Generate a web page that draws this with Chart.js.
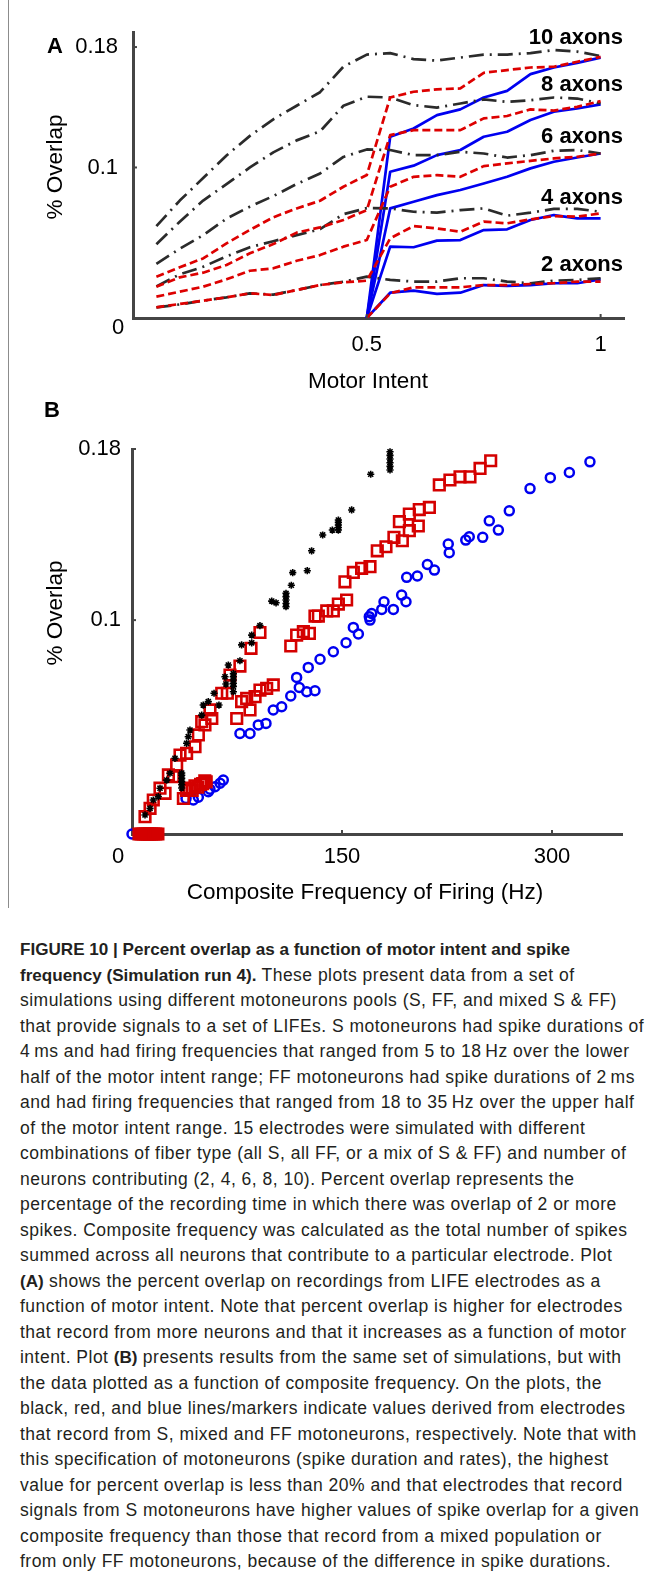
<!DOCTYPE html>
<html>
<head>
<meta charset="utf-8">
<title>Figure 10 - Percent overlap</title>
<script src="https://cdn.jsdelivr.net/npm/chart.js@4.4.1/dist/chart.umd.min.js"></script>
<style>
  html, body { margin: 0; padding: 0; background: #fff; }
  body { width: 657px; height: 1581px; position: relative; overflow: hidden; }
  .frame-line { position: absolute; left: 8px; top: 0; width: 1px; height: 908px; background: #8c8c8c; }
  #chartA { position: absolute; left: 0; top: 0; }
  #chartB { position: absolute; left: 0; top: 400px; }
  .caption {
    position: absolute; left: 20px; top: 937px;
    font-family: "Liberation Sans", Arial, Helvetica, sans-serif;
    font-size: 17.5px; line-height: 25.5px; color: #231f20;
    white-space: nowrap; letter-spacing: 0.48px;
  }
  .caption b { letter-spacing: 0; font-size: 17.1px; }
</style>
</head>
<body>
<div class="frame-line"></div>
<canvas id="chartA" width="657" height="400"></canvas>
<canvas id="chartB" width="657" height="510"></canvas>

<div class="caption">
<b>FIGURE 10 | Percent overlap as a function of motor intent and spike</b><br>
<b>frequency (Simulation run 4).</b> These plots present data from a set of<br>
simulations using different motoneurons pools (S, FF, and mixed S &amp; FF)<br>
that provide signals to a set of LIFEs. S motoneurons had spike durations of<br>
4&#8201;ms and had firing frequencies that ranged from 5 to 18&#8201;Hz over the lower<br>
half of the motor intent range; FF motoneurons had spike durations of 2&#8201;ms<br>
and had firing frequencies that ranged from 18 to 35&#8201;Hz over the upper half<br>
of the motor intent range. 15 electrodes were simulated with different<br>
combinations of fiber type (all S, all FF, or a mix of S &amp; FF) and number of<br>
neurons contributing (2, 4, 6, 8, 10). Percent overlap represents the<br>
percentage of the recording time in which there was overlap of 2 or more<br>
spikes. Composite frequency was calculated as the total number of spikes<br>
summed across all neurons that contribute to a particular electrode. Plot<br>
<b>(A)</b> shows the percent overlap on recordings from LIFE electrodes as a<br>
function of motor intent. Note that percent overlap is higher for electrodes<br>
that record from more neurons and that it increases as a function of motor<br>
intent. Plot <b>(B)</b> presents results from the same set of simulations, but with<br>
the data plotted as a function of composite frequency. On the plots, the<br>
black, red, and blue lines/markers indicate values derived from electrodes<br>
that record from S, mixed and FF motoneurons, respectively. Note that with<br>
this specification of motoneurons (spike duration and rates), the highest<br>
value for percent overlap is less than 20% and that electrodes that record<br>
signals from S motoneurons have higher values of spike overlap for a given<br>
composite frequency than those that record from a mixed population or<br>
from only FF motoneurons, because of the difference in spike durations.
</div>

<script>
// ===== Figure 10: % overlap vs motor intent (A) and composite frequency (B) =====

// ---------- Panel A: % overlap vs motor intent ----------
const intent = [0.05, 0.1, 0.15, 0.2, 0.25, 0.3, 0.35, 0.4, 0.45, 0.5,
                0.55, 0.6, 0.65, 0.7, 0.75, 0.8, 0.85, 0.9, 0.95, 1];

// S motoneurons (black dash-dot)
const s10 = [0.061, 0.078, 0.093, 0.108, 0.121, 0.132, 0.141, 0.150, 0.167, 0.175,
             0.176, 0.172, 0.171, 0.173, 0.175, 0.175, 0.176, 0.178, 0.177, 0.174];
const s8  = [0.049, 0.064, 0.078, 0.089, 0.100, 0.110, 0.118, 0.124, 0.141, 0.147,
             0.1465, 0.1414, 0.1398, 0.1425, 0.1452, 0.1436, 0.1447, 0.1465, 0.1458, 0.1425];
const s6  = [0.036, 0.046, 0.055, 0.066, 0.074, 0.081, 0.089, 0.096, 0.107, 0.112,
             0.1116, 0.1082, 0.1082, 0.1104, 0.1093, 0.1066, 0.1082, 0.1111, 0.1116, 0.1093];
const s4  = [0.021, 0.029, 0.034, 0.041, 0.047, 0.051, 0.055, 0.059, 0.069, 0.073,
             0.0728, 0.0706, 0.0700, 0.0717, 0.0728, 0.0680, 0.0700, 0.0725, 0.0725, 0.0706];
const s2  = [0.007, 0.009, 0.0115, 0.0137, 0.0164, 0.0155, 0.0186, 0.0219, 0.0241, 0.0275,
             0.0253, 0.0242, 0.0242, 0.0264, 0.0264, 0.0242, 0.0231, 0.0248, 0.0253, 0.0264];

// mixed S & FF (red dashed) - the 2-axon mix has a single S unit, so no overlap below 0.5
const mix10 = [0.0274, 0.0337, 0.0396, 0.0496, 0.0585, 0.0669, 0.0728, 0.0779, 0.0872, 0.0950,
               0.1465, 0.1503, 0.1519, 0.1525, 0.1629, 0.1647, 0.1664, 0.1669, 0.1702, 0.1735];
const mix8  = [0.0208, 0.027, 0.0301, 0.0352, 0.043, 0.0491, 0.0567, 0.0602, 0.0651, 0.0717,
               0.1215, 0.1248, 0.1248, 0.1248, 0.1326, 0.1342, 0.1386, 0.1378, 0.1403, 0.1441];
const mix6  = [0.0142, 0.0175, 0.0208, 0.0257, 0.0314, 0.033, 0.038, 0.0418, 0.0474, 0.0518,
               0.0872, 0.0938, 0.0949, 0.0938, 0.1009, 0.1027, 0.1044, 0.106, 0.1071, 0.1093];
const mix4  = [0.0071, 0.0093, 0.0115, 0.0137, 0.0164, 0.0153, 0.0186, 0.0219, 0.0237, 0.0248,
               0.0529, 0.0611, 0.0595, 0.0573, 0.064, 0.0629, 0.0655, 0.0677, 0.0673, 0.0695];
const mix2  = [null, null, null, null, null, null, null, null, null, 0,
               0.0164, 0.0204, 0.0204, 0.0204, 0.0219, 0.0219, 0.0226, 0.0231, 0.0242, 0.0242];

// FF motoneurons (blue) - they only fire over the upper half
const ff10 = [null, null, null, null, null, null, null, null, null, 0,
              0.1204, 0.1259, 0.1348, 0.1386, 0.1465, 0.1509, 0.162, 0.1664, 0.1695, 0.173];
const ff8  = [null, null, null, null, null, null, null, null, null, 0,
              0.0972, 0.1012, 0.1082, 0.1116, 0.1204, 0.1237, 0.1315, 0.137, 0.1392, 0.1419];
const ff6  = [null, null, null, null, null, null, null, null, null, 0,
              0.0728, 0.0772, 0.0816, 0.085, 0.0894, 0.0938, 0.0994, 0.1038, 0.1066, 0.1093];
const ff4  = [null, null, null, null, null, null, null, null, null, 0,
              0.0474, 0.047, 0.0514, 0.0518, 0.0584, 0.0589, 0.0651, 0.0684, 0.0662, 0.0662];
const ff2  = [null, null, null, null, null, null, null, null, null, 0,
              0.0168, 0.0182, 0.016, 0.0168, 0.0219, 0.0213, 0.0219, 0.0231, 0.0231, 0.0257];

const intentTicks = [0.5, 1];
const intentTickLabels = ['0.5', '1'];
const overlapTicksA = [0.1, 0.18];
const overlapTickLabelsA = ['0.1', '0.18'];
const axonLabels = ['10 axons', '8 axons', '6 axons', '4 axons', '2 axons'];

// ---------- Panel B: % overlap vs composite frequency (Hz) ----------
const sFreq = [9.3, 12.9, 15.2, 18.8, 20, 24.8, 27.1, 30.7, 35.5, 35.5,
               35.5, 35.5, 35.5, 35.5, 39, 40.2, 41.4, 49.8, 50.9, 54.5,
               58.6, 62.1, 66.4, 67.1, 68.8, 72.4, 72.4, 72.4, 72.4, 72.4,
               72.4, 77.1, 78.3, 85.5, 85.5, 91.4, 99.8, 102.9, 110, 110,
               110, 110, 110, 113.8, 114.8, 125.2, 128.3, 136.2, 143.1, 147.4,
               147.4, 147.4, 147.4, 147.4, 156.9, 170.5, 184.3, 184.3, 184.3, 184.3,
               184.3, 184.3];
const sOverlap = [0.0089, 0.012, 0.0159, 0.0175, 0.0214, 0.0252, 0.0284, 0.0354, 0.0215, 0.023,
                  0.0245, 0.026, 0.0275, 0.0285, 0.0424, 0.0455, 0.0486, 0.0556, 0.0603, 0.0619,
                  0.0658, 0.0603, 0.0735, 0.0701, 0.079, 0.0665, 0.069, 0.0705, 0.072, 0.0735,
                  0.075, 0.081, 0.0884, 0.0894, 0.093, 0.0974, 0.1089, 0.1081, 0.1063, 0.1078,
                  0.1094, 0.111, 0.1125, 0.1163, 0.1222, 0.1231, 0.1324, 0.1398, 0.1421, 0.1421,
                  0.1433, 0.1445, 0.1457, 0.1468, 0.1515, 0.1682, 0.1702, 0.1719, 0.1736, 0.1753,
                  0.177, 0.1787];

const mixFreq = [5, 6.5, 8, 9.5, 11, 12.5, 14, 15.5, 17, 18.5,
                 9.3, 12.9, 15.2, 20, 23.6, 26, 29.5, 31.9, 34.3, 39,
                 45, 47.4, 49.8, 52.1, 55.7, 57, 64.1, 68.1, 70, 77.1,
                 85, 91.4,
                 36.7, 39, 41, 43, 45, 47, 49, 50.5, 52, 53,
                 74.8, 78.3, 81.9, 84.3, 87.9, 91.4, 96.2, 100.9,
                 113.4, 117.6, 122.4, 126.7, 130.7, 133.1, 139.1, 143.8, 147.4, 153.3,
                 152.1, 158.1, 164, 170, 175.2, 181.4, 187.1, 193.1, 198.1, 204.5,
                 191, 198.1, 205.2, 212.4, 219.5, 227.1, 234.3, 241.4, 248.6, 256.2];
const mixOverlap = [0, 0, 0, 0, 0, 0, 0, 0, 0, 0,
                    0.0081, 0.012, 0.0159, 0.0214, 0.019, 0.0276, 0.0268, 0.0323, 0.0369, 0.0377,
                    0.0408, 0.0463, 0.0525, 0.051, 0.058, 0.054, 0.0658, 0.0658, 0.0743, 0.0785,
                    0.0868, 0.0942,
                    0.0166, 0.0204, 0.0215, 0.0204, 0.0225, 0.0219, 0.0232, 0.0236, 0.0248, 0.0244,
                    0.054, 0.0619, 0.0634, 0.058, 0.0642, 0.0673, 0.0681, 0.0697,
                    0.0879, 0.093, 0.0946, 0.0938, 0.1019, 0.1019, 0.1043, 0.1043, 0.1075, 0.1094,
                    0.1179, 0.1223, 0.1242, 0.125, 0.1324, 0.1343, 0.1387, 0.1371, 0.1418, 0.144,
                    0.146, 0.1496, 0.1517, 0.1527, 0.1632, 0.1655, 0.167, 0.167, 0.1709, 0.1745];

const ffFreq = [0,
                38.6, 43.8, 47.4, 54.5, 55.7, 59.3, 62.9, 65.2,
                77.1, 84.3, 90.2, 95.7, 100.9, 106.9, 113.4, 119.5, 124.8, 130.7,
                117.6, 125.9, 134.3, 143.8, 152.9, 161.7, 169.5, 178.4, 180, 186.7,
                158.1, 170, 171.2, 192.6, 195.7, 216, 226.6, 238.4, 250.5, 261.7,
                196.2, 203.8, 211, 225.9, 240.9, 255.2, 269.5, 284.3, 298.8, 312.4, 327.1];
const ffOverlap = [0,
                   0.0166, 0.0159, 0.0172, 0.0198, 0.0209, 0.0221, 0.0237, 0.0252,
                   0.047, 0.047, 0.051, 0.0517, 0.058, 0.0595, 0.0645, 0.0685, 0.0665, 0.067,
                   0.0732, 0.0779, 0.0817, 0.0852, 0.0894, 0.0935, 0.1016, 0.105, 0.1086, 0.105,
                   0.0966, 0.1, 0.1031, 0.1117, 0.1086, 0.1234, 0.1315, 0.1374, 0.1387, 0.1421,
                   0.12, 0.1206, 0.126, 0.1356, 0.139, 0.1464, 0.1511, 0.1615, 0.1666, 0.169, 0.174];

const freqTicks = [150, 300];
const freqTickLabels = ['150', '300'];
const overlapTicksB = [0.1, 0.18];
const overlapTickLabelsB = ['0.1', '0.18'];

// ==================== STYLE ====================
const FONT = '"Liberation Sans", Arial, Helvetica, sans-serif';
const AXIS_COLOR = '#454545';
const BLACK = '#2b2b2b';
const RED = '#dd0000';
const BLUE = '#0000f0';

Chart.defaults.font.family = FONT;
Chart.defaults.color = '#000';

// ==================== HELPERS ====================
function toPoints(xs, ys) {
    return xs.map((x, i) => ({ x: x, y: ys[i] }));
}

function lineSet(values, color, dash) {
    return {
        data: toPoints(intent, values),
        showLine: true,
        borderColor: color,
        borderWidth: 2.7,
        borderDash: dash,
        borderJoinStyle: 'round',
        pointRadius: 0,
        spanGaps: false,
        fill: false
    };
}

function tickedAxis(min, max, values, labels, padding, size) {
    return {
        type: 'linear',
        min: min,
        max: max,
        grid: { display: false, drawTicks: false },
        border: { display: true, color: AXIS_COLOR, width: 3 },
        afterBuildTicks: axis => { axis.ticks = values.map(v => ({ value: v })); },
        ticks: {
            autoSkip: false,
            maxRotation: 0,
            padding: padding,
            color: '#000',
            font: { size: 22 },
            callback: v => labels[values.indexOf(v)]
        },
        afterFit: axis => {
            if (axis.isHorizontal()) axis.height = size;
            else axis.width = size;
        }
    };
}

// small inward tick marks plus the free-standing labels
function annotations(texts) {
    return {
        id: 'annotations',
        afterDraw(chart) {
            const { ctx, chartArea, scales } = chart;
            ctx.save();
            ctx.strokeStyle = AXIS_COLOR;
            ctx.lineWidth = 2;
            scales.y.ticks.forEach(t => {
                const py = scales.y.getPixelForValue(t.value);
                ctx.beginPath();
                ctx.moveTo(chartArea.left, py);
                ctx.lineTo(chartArea.left + 4, py);
                ctx.stroke();
            });
            scales.x.ticks.forEach(t => {
                const px = scales.x.getPixelForValue(t.value);
                ctx.beginPath();
                ctx.moveTo(px, chartArea.bottom);
                ctx.lineTo(px, chartArea.bottom - 4);
                ctx.stroke();
            });

            texts.forEach(t => {
                ctx.save();
                ctx.font = t.font;
                ctx.fillStyle = '#000';
                ctx.textAlign = t.align || 'center';
                ctx.textBaseline = 'middle';
                ctx.translate(t.x, t.y);
                if (t.rotate) ctx.rotate(t.rotate);
                ctx.fillText(t.text, 0, 0);
                ctx.restore();
            });
            ctx.restore();
        }
    };
}

// ==================== PANEL A ====================
const dashDot = [15, 6, 2, 6];
const dashed = [8, 4];
const axonLabelY = [38, 85, 137, 198, 265];

const textsA = [
    { text: 'A', x: 55, y: 47, font: 'bold 22px ' + FONT },
    { text: '0', x: 118, y: 328, font: '22px ' + FONT },
    { text: '% Overlap', x: 56, y: 167, rotate: -Math.PI / 2, font: '22.5px ' + FONT },
    { text: 'Motor Intent', x: 368, y: 382, font: '22.5px ' + FONT }
].concat(axonLabels.map((label, i) => ({
    text: label, x: 623, y: axonLabelY[i], align: 'right', font: 'bold 22px ' + FONT
})));

new Chart(document.getElementById('chartA'), {
    type: 'scatter',
    data: {
        datasets: [
            lineSet(mix10, RED, dashed), lineSet(mix8, RED, dashed), lineSet(mix6, RED, dashed),
            lineSet(mix4, RED, dashed), lineSet(mix2, RED, dashed),
            lineSet(s10, BLACK, dashDot), lineSet(s8, BLACK, dashDot), lineSet(s6, BLACK, dashDot),
            lineSet(s4, BLACK, dashDot), lineSet(s2, BLACK, dashDot),
            lineSet(ff10, BLUE, []), lineSet(ff8, BLUE, []), lineSet(ff6, BLUE, []),
            lineSet(ff4, BLUE, []), lineSet(ff2, BLUE, [])
        ]
    },
    options: {
        responsive: false,
        animation: false,
        events: [],
        layout: { padding: { top: 32, right: 33, bottom: 0, left: 0 } },
        plugins: { legend: { display: false }, tooltip: { enabled: false } },
        scales: {
            x: tickedAxis(0, 1.05, intentTicks, intentTickLabels, 14, 82),
            y: tickedAxis(0, 0.19, overlapTicksA, overlapTickLabelsA, 15, 133)
        }
    },
    plugins: [annotations(textsA)]
});

// ==================== PANEL B ====================
const textsB = [
    { text: 'B', x: 52, y: 11, font: 'bold 22px ' + FONT },
    { text: '0', x: 118, y: 457, font: '22px ' + FONT },
    { text: '% Overlap', x: 56, y: 213, rotate: -Math.PI / 2, font: '22.5px ' + FONT },
    { text: 'Composite Frequency of Firing (Hz)', x: 365, y: 493, font: '22.5px ' + FONT }
];

new Chart(document.getElementById('chartB'), {
    type: 'scatter',
    data: {
        datasets: [
            {
                data: toPoints(sFreq, sOverlap),
                pointStyle: 'star', pointRadius: 3.6,
                borderColor: '#000', backgroundColor: '#000', pointBorderWidth: 1.6,
                clip: false
            },
            {
                data: toPoints(mixFreq, mixOverlap),
                pointStyle: 'rect', pointRadius: 7.5,
                borderColor: '#d40000', backgroundColor: 'rgba(0,0,0,0)', pointBorderWidth: 2.6,
                clip: false
            },
            {
                data: toPoints(ffFreq, ffOverlap),
                pointStyle: 'circle', pointRadius: 4.5,
                borderColor: BLUE, backgroundColor: 'rgba(0,0,0,0)', pointBorderWidth: 2.5,
                clip: false
            }
        ]
    },
    options: {
        responsive: false,
        animation: false,
        events: [],
        layout: { padding: { top: 49, right: 35, bottom: 0, left: 0 } },
        plugins: { legend: { display: false }, tooltip: { enabled: false } },
        scales: {
            x: tickedAxis(0, 350, freqTicks, freqTickLabels, 10, 76),
            y: tickedAxis(0, 0.18, overlapTicksB, overlapTickLabelsB, 11, 132)
        }
    },
    plugins: [annotations(textsB)]
});
</script>
</body>
</html>
